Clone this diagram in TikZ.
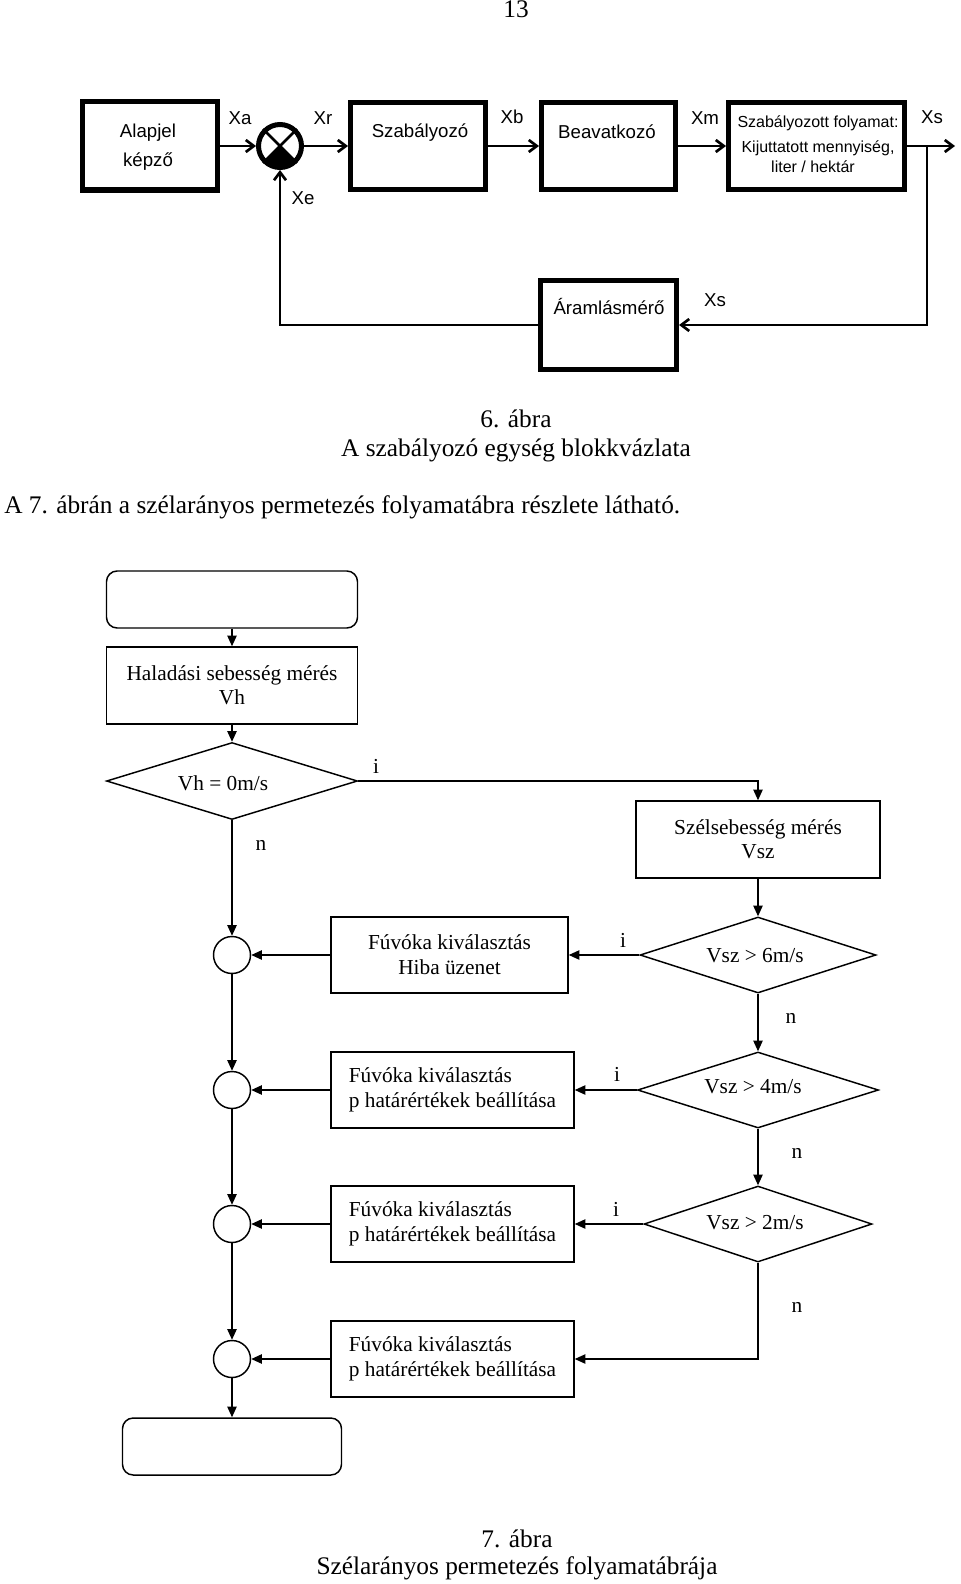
\documentclass[tikz,border=0pt]{standalone}
\usepackage{fontspec}
\setmainfont{Liberation Serif}
\newfontfamily\sansf{Liberation Sans}
\usetikzlibrary{arrows.meta,shapes.geometric,calc}
\def\u{0.75pt}
\begin{document}
\begin{tikzpicture}[x=0.75pt,y=-0.75pt,
  blk/.style={draw, line width=3.75pt, inner sep=0pt},
  conn/.style={line width=2pt, -{Straight Barb[length=6pt,width=9pt]}},
  btxt/.style={font=\sansf\fontsize{14}{16}\selectfont, inner sep=0pt},
  ptxt/.style={font=\sansf\fontsize{12}{14}\selectfont, inner sep=0pt, align=center},
  fbox/.style={draw, line width=1.1pt, inner sep=0pt, font=\fontsize{16}{19}\selectfont},
  fdia/.style={draw, diamond, line width=1.1pt, inner sep=0pt},
  fcirc/.style={draw, circle, line width=1.1pt, inner sep=0pt, minimum size=37*\u},
  farr/.style={line width=1.1pt, -{Triangle[length=8pt,width=7pt]}},
  ftxt/.style={font=\fontsize{16}{19}\selectfont, inner sep=0pt},
  captxt/.style={font=\fontsize{19}{22}\selectfont, inner sep=0pt}]
\useasboundingbox[fill=white] (0,0) rectangle (960,1584);

% ---------- page texts ----------
\node[captxt, anchor=base] (pg) at (516,18) {13};
\node[captxt] (c6a) at (516,419) {6. ábra};
\node[captxt] (c6b) at (516,450) {A szabályozó egység blokkvázlata};
\node[captxt, anchor=west] (par) at (4,507) {A 7. ábrán a szélarányos permetezés folyamatábra részlete látható.};
\node[captxt] (c7a) at (517,1539) {7. ábra};
\node[captxt] (c7b) at (517,1568) {Szélarányos permetezés folyamatábrája};

% ---------- block diagram ----------
\node[blk, minimum width=135*\u, minimum height=88*\u] (A) at (150,146) {};
\node[btxt, align=center, font=\sansf\fontsize{14}{22}\selectfont] (At) at (148,147) {Alapjel\\képző};
\node[draw, circle, line width=3.75pt, minimum size=43*\u, inner sep=0pt] (sum) at (280,146) {};
\begin{scope}
  \clip (sum.center) circle[radius=16pt];
  \fill (sum.center) -- ($(sum.center)!1.6!(sum.-45)$) -- ($(sum.center)!1.6!(sum.-90)$) -- ($(sum.center)!1.6!(sum.-135)$) -- cycle;
\end{scope}
\draw[line width=2pt] (sum.45) -- (sum.-135) (sum.135) -- (sum.-45);
\node[blk, minimum width=135*\u, minimum height=87*\u] (S) at (418,146) {};
\node[btxt] (St) at (420,133) {Szabályozó};
\node[blk, minimum width=134*\u, minimum height=87*\u] (B) at (608.5,146) {};
\node[btxt] (Bt) at (607,132) {Beavatkozó};
\node[blk, minimum width=176*\u, minimum height=87*\u] (P) at (816.5,146) {};
\node[ptxt] (Pt1) at (818,123) {Szabályozott folyamat:};
\node[ptxt] (Pt2) at (818,148) {Kijuttatott mennyiség,};
\node[ptxt] (Pt3) at (813,167) {liter / hektár};
\node[blk, minimum width=136*\u, minimum height=89*\u] (M) at (608.5,325) {};
\node[btxt] (Mt) at (609,306) {Áramlásmérő};

\coordinate (out) at (955,146);
\coordinate (br) at (927,146);
\draw[conn] (A.east) -- (sum.west);
\draw[conn] (sum.east) -- (S.west);
\draw[conn] (S.east) -- (B.west);
\draw[conn] (B.east) -- (P.west);
\draw[conn] (P.east) -- (out);
\draw[conn] (br) |- (M.east);
\draw[conn] (M.west) -| (sum.south);

\node[btxt] (lXa) at (240,118) {Xa};
\node[btxt] (lXr) at (323,118) {Xr};
\node[btxt] (lXb) at (512,117) {Xb};
\node[btxt] (lXm) at (705,118) {Xm};
\node[btxt] (lXs) at (932,117) {Xs};
\node[btxt] (lXe) at (303,198) {Xe};
\node[btxt] (lXs2) at (715,300) {Xs};

% ---------- flowchart ----------
\node[fbox, rounded corners=8pt, minimum width=251*\u, minimum height=57*\u] (start) at (232,599.5) {};
\node[fbox, align=center, minimum width=251*\u, minimum height=77*\u] (hal) at (232,685.5) {Haladási sebesség mérés\\[-1pt]Vh};
\node[fdia, minimum width=251*\u, minimum height=77*\u] (d0) at (232,781) {};
\node[ftxt] (d0t) at (223,783) {Vh = 0m/s};
\node[fbox, align=center, minimum width=244*\u, minimum height=77*\u] (szel) at (758,839.5) {Szélsebesség mérés\\[-1pt]Vsz};

\node[fdia, minimum width=236*\u, minimum height=76*\u] (d1) at (758,955) {};
\node[ftxt] (d1t) at (755,956) {Vsz > 6m/s};
\node[fbox, align=center, minimum width=237*\u, minimum height=76*\u] (b1) at (449.5,955) {Fúvóka kiválasztás\\Hiba üzenet};
\node[fcirc] (c1) at (232,955) {};

\node[fdia, minimum width=241*\u, minimum height=76*\u] (d2) at (758,1090) {};
\node[ftxt] (d2t) at (753,1087) {Vsz > 4m/s};
\node[fbox, align=left, minimum width=243*\u, minimum height=76*\u] (b2) at (452.5,1090) {Fúvóka kiválasztás\\p határértékek beállítása};
\node[fcirc] (c2) at (232,1090) {};

\node[fdia, minimum width=228*\u, minimum height=76*\u] (d3) at (758,1224) {};
\node[ftxt] (d3t) at (755,1223) {Vsz > 2m/s};
\node[fbox, align=left, minimum width=243*\u, minimum height=76*\u] (b3) at (452.5,1224) {Fúvóka kiválasztás\\p határértékek beállítása};
\node[fcirc] (c3) at (232,1224) {};

\node[fbox, align=left, minimum width=243*\u, minimum height=76*\u] (b4) at (452.5,1359) {Fúvóka kiválasztás\\p határértékek beállítása};
\node[fcirc] (c4) at (232,1359) {};

\node[fbox, rounded corners=8pt, minimum width=219*\u, minimum height=57*\u] (end) at (232,1446.5) {};

\draw[farr] (start.south) -- (hal.north);
\draw[farr] (hal.south) -- (d0.north);
\draw[farr] (d0.east) -| (szel.north);
\draw[farr] (d0.south) -- (c1.north);
\draw[farr] (szel.south) -- (d1.north);
\draw[farr] (d1.west) -- (b1.east);
\draw[farr] (b1.west) -- (c1.east);
\draw[farr] (d1.south) -- (d2.north);
\draw[farr] (d2.west) -- (b2.east);
\draw[farr] (b2.west) -- (c2.east);
\draw[farr] (d2.south) -- (d3.north);
\draw[farr] (d3.west) -- (b3.east);
\draw[farr] (b3.west) -- (c3.east);
\draw[farr] (d3.south) |- (b4.east);
\draw[farr] (b4.west) -- (c4.east);
\draw[farr] (c1.south) -- (c2.north);
\draw[farr] (c2.south) -- (c3.north);
\draw[farr] (c3.south) -- (c4.north);
\draw[farr] (c4.south) -- (end.north);

\node[ftxt] (li0) at (376,766) {i};
\node[ftxt] (ln0) at (261,845) {n};
\node[ftxt] (li1) at (623,940) {i};
\node[ftxt] (ln1) at (791,1018) {n};
\node[ftxt] (li2) at (617,1074) {i};
\node[ftxt] (ln2) at (797,1153) {n};
\node[ftxt] (li3) at (616,1209) {i};
\node[ftxt] (ln3) at (797,1307) {n};
\end{tikzpicture}
\end{document}
